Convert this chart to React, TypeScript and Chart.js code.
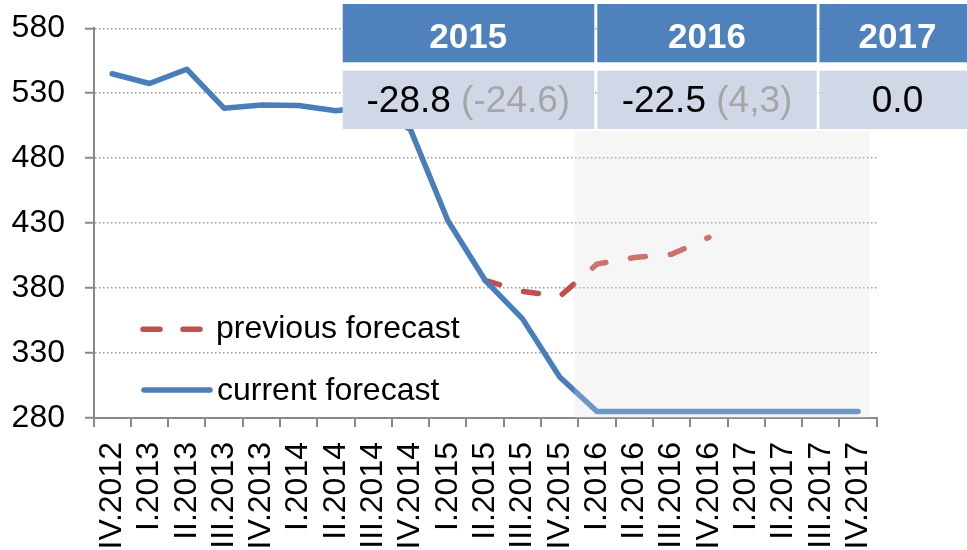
import React, { useEffect, useRef } from "react";
import { Chart, registerables } from "chart.js";

Chart.register(...registerables);

const categories = [
  "IV.2012", "I.2013", "II.2013", "III.2013", "IV.2013", "I.2014", "II.2014", "III.2014", "IV.2014",
  "I.2015", "II.2015", "III.2015", "IV.2015", "I.2016", "II.2016", "III.2016", "IV.2016",
  "I.2017", "II.2017", "III.2017", "IV.2017",
];

const currentForecast = [545, 537.5, 548.5, 518.5, 521, 520.5, 516.5, 520, 502, 432, 386, 356.5, 311.5, 285, 285, 285, 285, 285, 285, 285, 285];

const previousForecast = [null, null, null, null, null, null, null, null, null, null, 386, 377.5, 373.5, 398.5, 403.5, 406, 419, null, null, null, null];

const yTicks = { min: 280, max: 580, step: 50 };

// forecast shading (category index range and value top)
const shadeFrom = 12.4;
const shadeTo = 20.32;
const shadeTop = 501;

const tableYears = ["2015", "2016", "2017"];
const tableValues = ["-28.8", "-22.5", "0.0"];
const tablePrevious = ["(-24.6)", "(4,3)", ""];

const BLUE = "#4a7ebb";
const RED = "#c0504d";
const AXIS = "#898989";
const GRID = "#9a9a9a";
const FONT = "'Liberation Sans', Arial, sans-serif";

const shadePlugin = {
  id: "shade",
  beforeDraw(chart: any) {
    const { ctx, scales } = chart;
    const x = scales.x;
    const y = scales.y;
    const l = x.getPixelForValue(shadeFrom);
    const r = x.getPixelForValue(shadeTo);
    const t = y.getPixelForValue(shadeTop);
    const b = y.getPixelForValue(yTicks.min);
    ctx.save();
    ctx.fillStyle = "#f4f4f4";
    ctx.fillRect(l, t, r - l, b - t);
    ctx.restore();
  },
  afterDatasetsDraw(chart: any) {
    const { ctx, scales } = chart;
    const x = scales.x;
    const y = scales.y;
    const l = x.getPixelForValue(shadeFrom);
    const r = x.getPixelForValue(shadeTo);
    const t = y.getPixelForValue(shadeTop);
    const b = y.getPixelForValue(yTicks.min);
    ctx.save();
    ctx.fillStyle = "rgba(255,255,255,0.2)";
    ctx.fillRect(l, t, r - l, b - t);
    ctx.restore();
  },
};

export default function App() {
  const ref = useRef<HTMLCanvasElement | null>(null);

  useEffect(() => {
    if (!ref.current) return;
    const chart = new Chart(ref.current, {
      type: "line",
      data: {
        labels: categories,
        datasets: [
          {
            label: "current forecast",
            data: currentForecast,
            borderColor: BLUE,
            borderWidth: 5.5,
            pointRadius: 0,
            borderCapStyle: "round",
            borderJoinStyle: "round",
            tension: 0,
          },
          {
            label: "previous forecast",
            data: previousForecast as any,
            borderColor: RED,
            borderWidth: 5.5,
            borderDash: [15, 25],
            borderCapStyle: "round",
            pointRadius: 0,
            tension: 0,
            spanGaps: false,
          },
        ],
      },
      options: {
        animation: false,
        responsive: false,
        events: [],
        layout: { padding: { top: 28.3, right: 90.3, left: 0, bottom: 0 } },
        plugins: { legend: { display: false }, tooltip: { enabled: false } },
        scales: {
          x: {
            type: "category",
            offset: true,
            grid: {
              offset: true,
              drawOnChartArea: false,
              drawTicks: true,
              tickLength: 9,
              color: AXIS,
              lineWidth: 2,
            },
            border: { color: AXIS, width: 2 },
            ticks: {
              autoSkip: false,
              minRotation: 90,
              maxRotation: 90,
              padding: 15,
              color: "#000",
              font: { family: FONT, size: 32 },
            },
            afterFit: (s: any) => {
              s.height = 132;
              s.paddingLeft = 0;
              s.paddingRight = 0;
            },
          },
          y: {
            min: yTicks.min,
            max: yTicks.max,
            ticks: {
              stepSize: yTicks.step,
              padding: 20,
              color: "#000",
              font: { family: FONT, size: 32 },
            },
            grid: {
              color: (c: any) => (c.tick && c.tick.value === yTicks.min ? "rgba(0,0,0,0)" : GRID),
              lineWidth: 1.5,
              tickColor: AXIS,
              tickWidth: 2,
              tickLength: 8.5,
            },
            border: { color: AXIS, width: 2, dash: [1.5, 2.5] },
            afterFit: (s: any) => {
              s.width = 93.5;
              s.paddingTop = 0;
              s.paddingBottom = 0;
            },
          },
        },
      } as any,
      plugins: [shadePlugin],
    });
    return () => chart.destroy();
  }, []);

  const headerX = [342.7, 597.3, 819.5];
  const headerW = [251.6, 219.4, 160];
  const centers = [468.3, 707, 897.5];

  return (
    <div style={{ position: "absolute", left: 0, top: 0, width: 967, height: 550, background: "#fff", overflow: "hidden" }}>
      <canvas ref={ref} width={967} height={550} style={{ position: "absolute", left: 0, top: 0 }} />
      <svg
        width={967}
        height={550}
        style={{ position: "absolute", left: 0, top: 0, pointerEvents: "none", overflow: "hidden" }}
      >
        {tableYears.map((yr, i) => (
          <g key={yr}>
            <rect x={headerX[i]} y={4} width={headerW[i]} height={58.3} fill="#4f81bd" />
            <rect x={headerX[i]} y={70.7} width={headerW[i]} height={58.3} fill="#d0d8e8" />
            <text x={centers[i]} y={48} textAnchor="middle" fill="#fff" fontFamily={FONT} fontWeight="bold" fontSize={35}>
              {yr}
            </text>
            <text x={centers[i]} y={112.3} textAnchor="middle" fontFamily={FONT} fontSize={37} style={{ whiteSpace: "pre" }}>
              <tspan fill="#000">{tableValues[i] + (tablePrevious[i] ? "\u00A0" : "")}</tspan>
              {tablePrevious[i] ? <tspan fill="#a6a6a6">{tablePrevious[i]}</tspan> : null}
            </text>
          </g>
        ))}
        <line x1={143} y1={329.3} x2={201} y2={329.3} stroke={RED} strokeWidth={5.5} strokeDasharray="17 23" strokeLinecap="round" />
        <text x={216} y={338.3} fontFamily={FONT} fontSize={32} fill="#000">previous forecast</text>
        <line x1={144} y1={390} x2={210} y2={390} stroke={BLUE} strokeWidth={5.5} strokeLinecap="round" />
        <text x={217} y={399.5} fontFamily={FONT} fontSize={32} fill="#000">current forecast</text>
      </svg>
    </div>
  );
}
